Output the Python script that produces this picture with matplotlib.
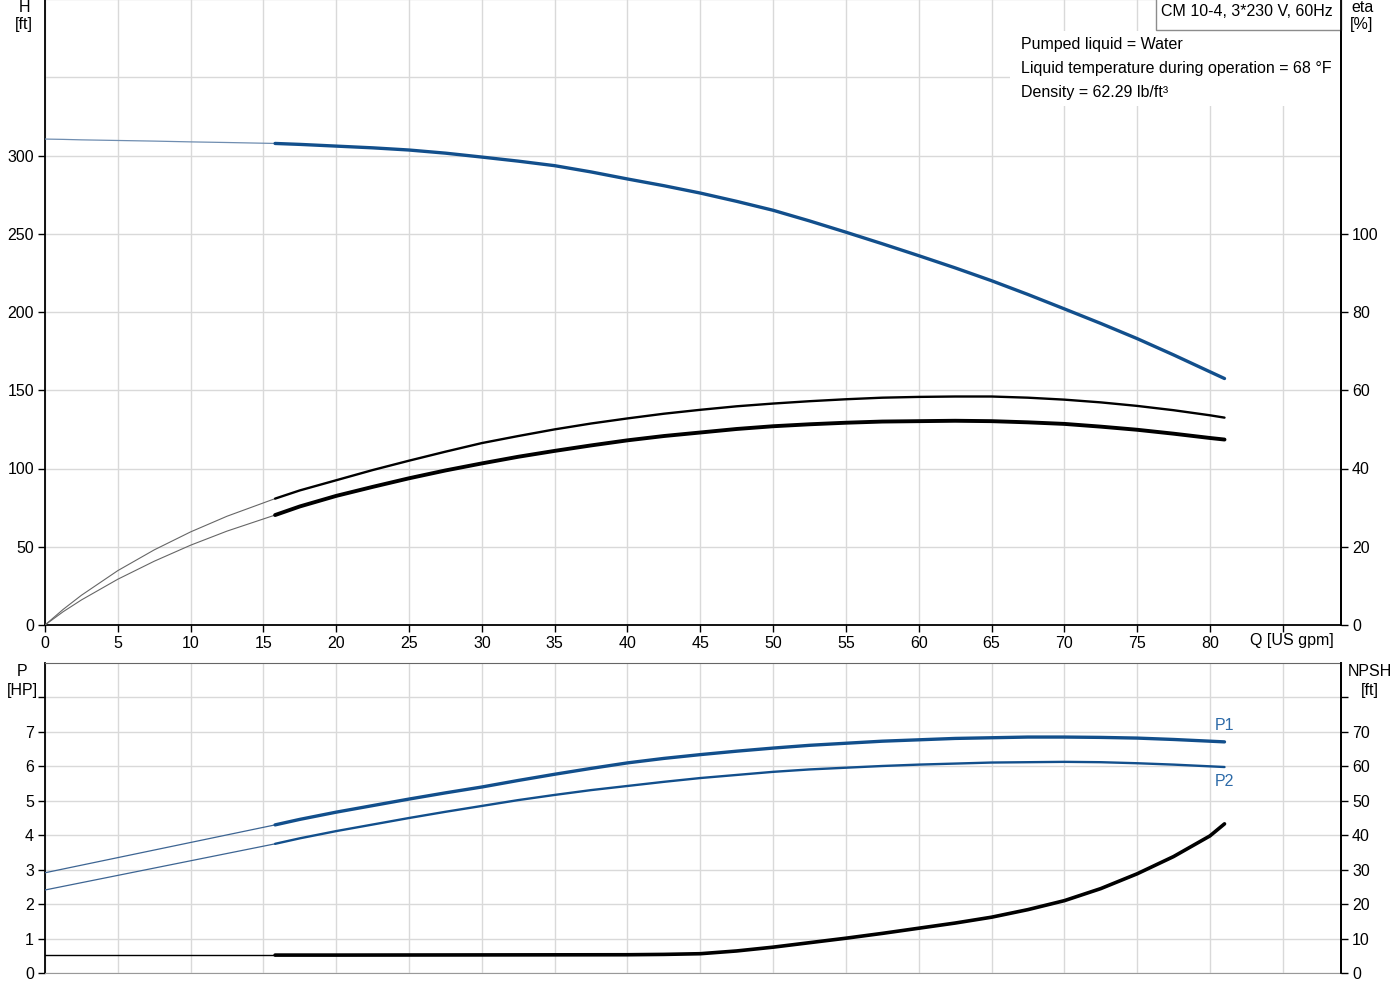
import matplotlib
matplotlib.use("Agg")
import matplotlib.pyplot as plt
from matplotlib.patches import Rectangle

plt.rcParams['font.family'] = ['Liberation Sans', 'DejaVu Sans']
FS = 11.5
plt.rcParams['font.size'] = FS

# ---------------- data ----------------
q_ext = [0, 1.25, 2.5, 5, 7.5, 10, 12.5, 15.8]
q_main = [15.8, 17.5, 20, 22.5, 25, 27.5, 30, 32.5, 35, 37.5, 40, 42.5, 45, 47.5,
          50, 52.5, 55, 57.5, 60, 62.5, 65, 67.5, 70, 72.5, 75, 77.5, 80, 81]

h_ext = [310.5, 310.3, 310.0, 309.6, 309.2, 308.7, 308.3, 307.7]
h_main = [307.7, 307.1, 306.0, 304.9, 303.5, 301.5, 299.0, 296.4, 293.5, 289.5,
          285.0, 280.7, 276.0, 270.7, 265.0, 258.2, 251.0, 243.6, 236.0, 228.2,
          220.0, 211.2, 202.0, 192.7, 183.0, 172.6, 161.8, 157.5]

eta1_ext = [0, 4.0, 7.6, 13.9, 19.2, 23.8, 27.8, 32.3]
eta1_main = [32.3, 34.4, 37.0, 39.6, 42.0, 44.3, 46.5, 48.3, 50.0, 51.5, 52.8, 54.0,
             55.0, 55.9, 56.6, 57.2, 57.7, 58.1, 58.3, 58.4, 58.4, 58.1, 57.6, 56.9,
             56.0, 54.9, 53.6, 53.0]
eta2_ext = [0, 3.4, 6.4, 11.7, 16.3, 20.4, 24.0, 28.1]
eta2_main = [28.1, 30.3, 33.0, 35.3, 37.5, 39.5, 41.3, 43.0, 44.5, 45.9, 47.2, 48.3,
             49.2, 50.1, 50.8, 51.3, 51.7, 52.0, 52.1, 52.2, 52.1, 51.8, 51.4, 50.7,
             49.9, 48.9, 47.8, 47.4]

qp_ext = [0, 15.8]
p1_ext = [2.91, 4.30]
p1_main = [4.30, 4.46, 4.67, 4.86, 5.05, 5.23, 5.40, 5.59, 5.77, 5.94, 6.10, 6.23,
           6.34, 6.44, 6.53, 6.61, 6.67, 6.73, 6.77, 6.81, 6.83, 6.85, 6.85, 6.84,
           6.82, 6.78, 6.73, 6.71]
p2_ext = [2.41, 3.75]
p2_main = [3.75, 3.91, 4.12, 4.31, 4.50, 4.68, 4.85, 5.02, 5.17, 5.31, 5.43, 5.55,
           5.66, 5.75, 5.84, 5.91, 5.96, 6.01, 6.05, 6.08, 6.11, 6.12, 6.13, 6.12,
           6.09, 6.05, 6.00, 5.98]

q_npsh = [15.8, 20, 30, 40, 42.5, 45, 47.5, 50, 52.5, 55, 57.5, 60, 62.5, 65, 67.5,
          70, 72.5, 75, 77.5, 80, 81]
npsh_ext = [5.2, 5.2]
npsh_main = [5.2, 5.2, 5.25, 5.3, 5.4, 5.6, 6.4, 7.5, 8.8, 10.1, 11.5, 13.0, 14.5,
             16.2, 18.4, 21.0, 24.5, 28.8, 33.8, 39.8, 43.3]

x_ticks = list(range(0, 90, 5))
x_labels = [str(v) for v in range(0, 85, 5)] + ['']
h_ticks = [0, 50, 100, 150, 200, 250, 300]
h_grid_extra = [350, 400]
eta_ticks = [0, 20, 40, 60, 80, 100]
p_ticks = [0, 1, 2, 3, 4, 5, 6, 7, 8]
p_labels = ['0', '1', '2', '3', '4', '5', '6', '7', '']
npsh_ticks = [0, 10, 20, 30, 40, 50, 60, 70, 80]
npsh_labels = ['0', '10', '20', '30', '40', '50', '60', '70', '']

title_text = "CM 10-4, 3*230 V, 60Hz"
info_lines = ["Pumped liquid = Water",
              "Liquid temperature during operation = 68 °F",
              "Density = 62.29 lb/ft³"]

BLUE = '#124f8c'
GRID = '#d9d9d9'
W, H = 1400, 1000

fig = plt.figure(figsize=(14, 10), dpi=100)

def fx(px):
    return px / W

def fy(py):
    return 1 - py / H

# ---------------- top axes ----------------
ax = fig.add_axes([fx(45), fy(625), fx(1341) - fx(45), fy(-1) - fy(625)])
ax.set_xlim(0, 89)
ax.set_ylim(0, 400)
ax.set_axisbelow(True)
ax.set_xticks(x_ticks)
ax.set_xticklabels(x_labels)
ax.set_yticks(h_ticks)
ax.grid(True, color=GRID, lw=1)
for v in h_grid_extra:
    ax.axhline(v, color=GRID, lw=1, zorder=0.5)
ax.spines['top'].set_visible(False)
for s in ['left', 'bottom', 'right']:
    ax.spines[s].set_color('black')
    ax.spines[s].set_linewidth(1.3)
ax.tick_params(direction='out', length=5, width=1, pad=3, labelsize=FS)

ax2 = ax.twinx()
ax2.set_ylim(0, 160)
ax2.set_yticks(eta_ticks)
ax2.tick_params(direction='out', length=5, width=1, pad=3, labelsize=FS)
for s in ['top', 'left', 'bottom']:
    ax2.spines[s].set_visible(False)
ax2.spines['right'].set_linewidth(1.3)

# white box behind info text
ax.add_patch(Rectangle((fx(1010), fy(106)), fx(1341) - fx(1010), fy(31) - fy(106),
                       transform=fig.transFigure, facecolor='white', edgecolor='none', zorder=1))
# framed title box
ax.add_patch(Rectangle((fx(1155.5), fy(30)), fx(1340.5) - fx(1155.5), fy(-5) - fy(30),
                       transform=fig.transFigure, facecolor='white', edgecolor='#8c8c8c',
                       lw=1, zorder=4, clip_on=False))

ax.plot(q_ext, h_ext, color='#6f8db0', lw=0.9, zorder=3)
ax.plot(q_main, h_main, color=BLUE, lw=2.4, zorder=3, solid_capstyle='round')
ax2.plot(q_ext, eta1_ext, color='#666666', lw=0.8, zorder=3)
ax2.plot(q_main, eta1_main, color='black', lw=1.7, zorder=3, solid_capstyle='round')
ax2.plot(q_ext, eta2_ext, color='#666666', lw=0.8, zorder=3)
ax2.plot(q_main, eta2_main, color='black', lw=2.8, zorder=3, solid_capstyle='round')

fig.text(fx(1161), fy(12), title_text, ha='left', va='center', fontsize=FS, zorder=5)
for i, line in enumerate(info_lines):
    fig.text(fx(1021), fy(44 + 24 * i), line, ha='left', va='center', fontsize=FS)

fig.text(fx(24), fy(8), 'H', ha='center', va='center', fontsize=FS)
fig.text(fx(24), fy(25), '[ft]', ha='center', va='center', fontsize=FS)
fig.text(fx(1362), fy(8), 'eta', ha='center', va='center', fontsize=FS)
fig.text(fx(1362), fy(25), '[%]', ha='center', va='center', fontsize=FS)
fig.text(fx(1292), fy(640), 'Q [US gpm]', ha='center', va='center', fontsize=FS)

# ---------------- bottom axes ----------------
bx = fig.add_axes([fx(45), fy(973), fx(1341) - fx(45), fy(663) - fy(973)])
bx.set_xlim(0, 89)
bx.set_ylim(0, 9)
bx.set_axisbelow(True)
bx.set_xticks(x_ticks)
bx.set_xticklabels([])
bx.tick_params(axis='x', length=0)
bx.set_yticks(p_ticks)
bx.set_yticklabels(p_labels)
bx.grid(True, color=GRID, lw=1)
bx.spines['top'].set_color('#666666')
bx.spines['bottom'].set_color('#999999')
bx.spines['left'].set_linewidth(1.3)
bx.spines['right'].set_linewidth(1.3)
bx.tick_params(axis='y', direction='out', length=5, width=1, pad=3, labelsize=FS)

bx2 = bx.twinx()
bx2.set_ylim(0, 90)
bx2.set_yticks(npsh_ticks)
bx2.set_yticklabels(npsh_labels)
bx2.tick_params(direction='out', length=5, width=1, pad=3, labelsize=FS)
for s in ['top', 'left', 'bottom']:
    bx2.spines[s].set_visible(False)
bx2.spines['right'].set_linewidth(1.3)

bx.plot(qp_ext, p1_ext, color='#3d6593', lw=0.9, zorder=3)
bx.plot(q_main, p1_main, color=BLUE, lw=2.4, zorder=3, solid_capstyle='round')
bx.plot(qp_ext, p2_ext, color='#3d6593', lw=0.9, zorder=3)
bx.plot(q_main, p2_main, color=BLUE, lw=1.7, zorder=3, solid_capstyle='round')
bx2.plot(qp_ext, npsh_ext, color='black', lw=1.0, zorder=3)
bx2.plot(q_npsh, npsh_main, color='black', lw=2.6, zorder=3, solid_capstyle='round')

bx.text(q_main[-1], p1_main[-1] + 0.25, 'P1', color='#2c6aa8', ha='center', va='bottom', fontsize=FS)
bx.text(q_main[-1], p2_main[-1] - 0.2, 'P2', color='#2c6aa8', ha='center', va='top', fontsize=FS)

fig.text(fx(22), fy(672), 'P', ha='center', va='center', fontsize=FS)
fig.text(fx(22), fy(690), '[HP]', ha='center', va='center', fontsize=FS)
fig.text(fx(1370), fy(672), 'NPSH', ha='center', va='center', fontsize=FS)
fig.text(fx(1370), fy(690), '[ft]', ha='center', va='center', fontsize=FS)

fig.savefig('out.png', dpi=100, facecolor='white')
